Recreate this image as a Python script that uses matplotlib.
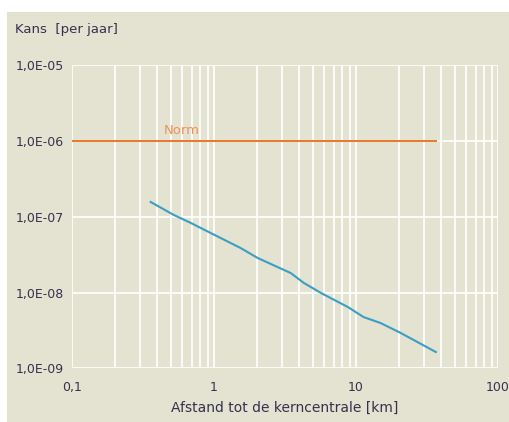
import numpy as np
import matplotlib
matplotlib.use("Agg")
import matplotlib.pyplot as plt
from matplotlib.ticker import FixedLocator, FuncFormatter, NullFormatter

plt.rcParams.update({"font.family": "DejaVu Sans", "font.size": 8})

# risk per year vs. distance to the nuclear plant
afstand = [0.358, 0.52, 0.686, 0.95, 1.54, 2.03, 3.47, 4.29, 5.65, 8.75, 11.3, 14.9, 20.7, 36.5]
kans = [1.57e-7, 1.06e-7, 8.3e-8, 6.1e-8, 3.87e-8, 2.86e-8, 1.81e-8, 1.34e-8,
        9.9e-9, 6.45e-9, 4.75e-9, 3.96e-9, 2.92e-9, 1.64e-9]
norm_x = [0.1, 36.5]
norm_y = [1e-6, 1e-6]

BG = "#e4e2d0"
TXT = "#34324f"

fig = plt.figure(figsize=(5.09, 4.22), dpi=100)
fig.patches.append(plt.Rectangle((7 / 509, 0), 1, 1 - 12 / 422, transform=fig.transFigure,
                                 fc=BG, ec="none", zorder=-10))
ax = fig.add_axes([72 / 509, 1 - 368.3 / 422, (498 - 72) / 509, (368.3 - 65.3) / 422])
ax.set_zorder(5)
ax.set_facecolor(BG)
ax.set_xscale("log"); ax.set_yscale("log")
ax.set_xlim(0.1, 100); ax.set_ylim(1e-9, 1e-5)

minor = [m * 10.0 ** e for e in (-1, 0, 1) for m in range(2, 10)]
ax.xaxis.set_major_locator(FixedLocator([0.1, 1, 10, 100]))
ax.xaxis.set_minor_locator(FixedLocator(minor))
ax.xaxis.set_minor_formatter(NullFormatter())
ax.xaxis.set_major_formatter(FuncFormatter(lambda v, p: "0,1" if v < 1 else f"{v:g}"))
ax.yaxis.set_major_locator(FixedLocator([1e-9, 1e-8, 1e-7, 1e-6, 1e-5]))
ax.yaxis.set_minor_locator(FixedLocator([]))
ax.yaxis.set_major_formatter(FuncFormatter(lambda v, p: f"1,0E-{-int(round(np.log10(v))):02d}"))
ax.grid(True, which="major", color="white", lw=1.2)
ax.grid(True, which="minor", axis="x", color="white", lw=1.2)
for s in ax.spines.values():
    s.set_visible(False)
ax.tick_params(which="both", length=0, colors=TXT, labelsize=9)
ax.tick_params(axis="x", pad=9)
ax.tick_params(axis="y", pad=6)

ax.plot(norm_x, norm_y, color="#e8782a", lw=1.4, zorder=3)
ax.plot(afstand, kans, color="#3a9fc3", lw=1.5, zorder=3)
ax.text(0.44, 1.12e-6, "Norm", color="#f0905a", fontsize=9.5, va="bottom")

ax.set_xlabel("Afstand tot de kerncentrale [km]", color=TXT, fontsize=10, labelpad=5)
fig.text(15 / 509, 1 - 30 / 422, "Kans  [per jaar]", color=TXT, fontsize=9.5, va="center")

fig.savefig("out.png", dpi=100)
